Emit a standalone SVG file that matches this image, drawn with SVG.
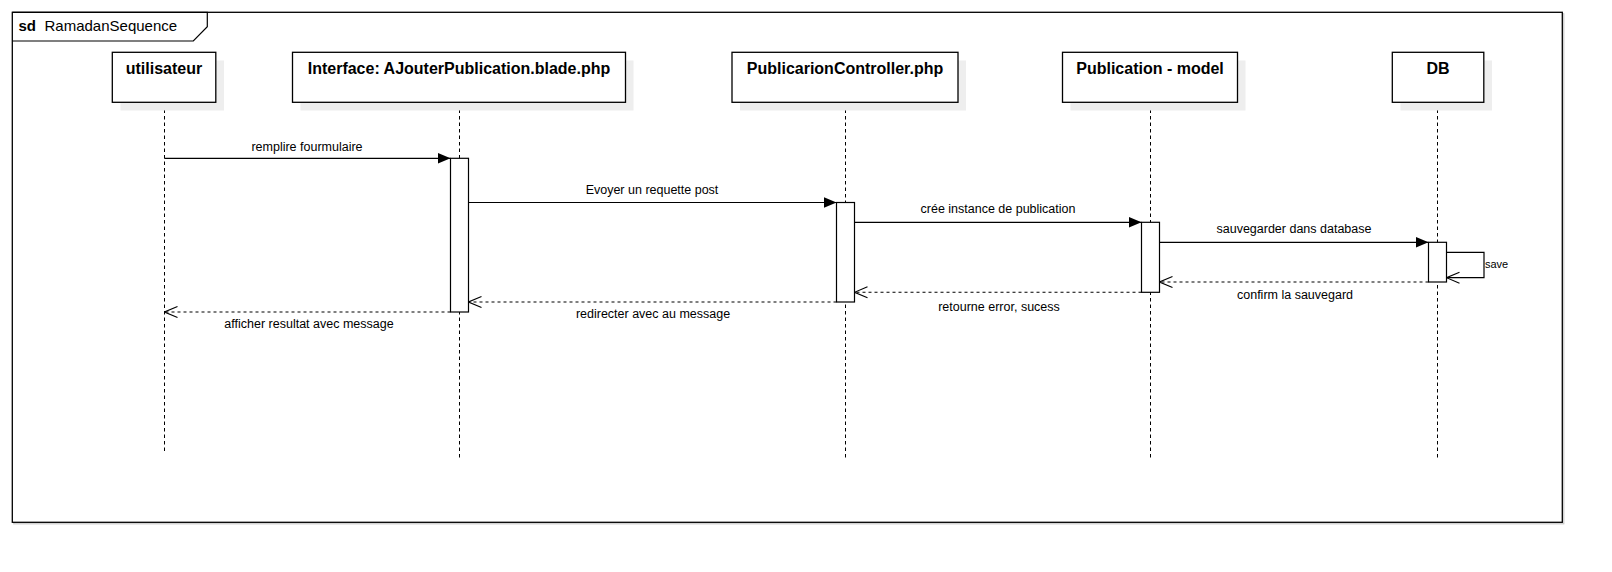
<svg xmlns="http://www.w3.org/2000/svg" width="1612" height="572" viewBox="0 0 1612 572">
<defs>
<style>
.frame{fill:#fff;stroke:#000;stroke-width:1.3}
.shadow{fill:#eeeeee;stroke:none}
.box{fill:#fff;stroke:#000;stroke-width:1.3}
.lbl{font-family:"Liberation Sans",Arial,sans-serif;font-size:16px;font-weight:bold;fill:#000;text-anchor:middle}
.life{stroke:#000;stroke-width:1;stroke-dasharray:3.5 3;fill:none}
.act{fill:#fff;stroke:#000;stroke-width:1.2}
.msg{stroke:#000;stroke-width:1.2;fill:none}
.ret{stroke:#000;stroke-width:1.1;fill:none;stroke-dasharray:3 3}
.mt{font-family:"Liberation Sans",Arial,sans-serif;font-size:12.5px;fill:#000;text-anchor:middle}
</style>
<marker id="fill" markerWidth="14" markerHeight="12" refX="13" refY="6" orient="auto" markerUnits="userSpaceOnUse">
<path d="M0,0.5 L13,6 L0,11.5 Z" fill="#000"/>
</marker>
<marker id="open" markerWidth="15" markerHeight="14" refX="14" refY="7" orient="auto" markerUnits="userSpaceOnUse">
<path d="M1,1.5 L14,7 L1,12.5" fill="none" stroke="#000" stroke-width="1.1"/>
</marker>
</defs>
<rect width="1612" height="572" fill="#fff"/>
<g id="frame">
<rect x="13.8" y="13.8" width="1550" height="510" fill="none" stroke="#c8c8c8" stroke-width="1.2"/>
<rect class="frame" x="12.3" y="12.3" width="1550" height="510"/>
<path d="M12.3,12.3 H207.3 V26.7 L193.3,41 H12.3" fill="none" stroke="#000" stroke-width="1.2"/>
<text x="18.5" y="30.5" font-family="'Liberation Sans',Arial,sans-serif" font-size="15" font-weight="bold" fill="#000">sd</text>
<text x="44.5" y="30.5" font-family="'Liberation Sans',Arial,sans-serif" font-size="15" fill="#000">RamadanSequence</text>
</g>
<g id="lifelines">
<line class="life" x1="164.5" y1="103" x2="164.5" y2="452"/>
<line class="life" x1="459.5" y1="103" x2="459.5" y2="460"/>
<line class="life" x1="845.5" y1="103" x2="845.5" y2="460"/>
<line class="life" x1="1150.5" y1="103" x2="1150.5" y2="460"/>
<line class="life" x1="1437.5" y1="103" x2="1437.5" y2="460"/>
</g>
<g id="utilisateur">
<rect class="shadow" x="120.5" y="60.5" width="103.5" height="50"/>
<rect class="box" x="112.3" y="52.3" width="103.5" height="50"/>
<text class="lbl" x="164" y="74">utilisateur</text>
</g>
<g id="interface">
<rect class="shadow" x="300.5" y="60.5" width="333" height="50"/>
<rect class="box" x="292.5" y="52.3" width="333" height="50"/>
<text class="lbl" x="459" y="74">Interface: AJouterPublication.blade.php</text>
</g>
<g id="controller">
<rect class="shadow" x="740" y="60.5" width="226" height="50"/>
<rect class="box" x="732" y="52.3" width="226" height="50"/>
<text class="lbl" x="845" y="74">PublicarionController.php</text>
</g>
<g id="model">
<rect class="shadow" x="1070.5" y="60.5" width="175" height="50"/>
<rect class="box" x="1062.5" y="52.3" width="175" height="50"/>
<text class="lbl" x="1150" y="74">Publication - model</text>
</g>
<g id="db">
<rect class="shadow" x="1400.5" y="60.5" width="91.5" height="50"/>
<rect class="box" x="1392.3" y="52.3" width="91.5" height="50"/>
<text class="lbl" x="1438" y="74">DB</text>
</g>
<g id="activations">
<rect class="act" x="450.5" y="158.3" width="18" height="153.7"/>
<rect class="act" x="836.5" y="202.5" width="18" height="99.5"/>
<rect class="act" x="1141.5" y="222.3" width="18" height="70"/>
<rect class="act" x="1428.5" y="242.3" width="18" height="39.7"/>
</g>
<g id="connectors">
<line class="msg" x1="164.5" y1="158.3" x2="450.5" y2="158.3" marker-end="url(#fill)"/>
<line class="msg" x1="468.5" y1="202.5" x2="836.5" y2="202.5" marker-end="url(#fill)"/>
<line class="msg" x1="854.5" y1="222.3" x2="1141.5" y2="222.3" marker-end="url(#fill)"/>
<line class="msg" x1="1159.5" y1="242.3" x2="1428.5" y2="242.3" marker-end="url(#fill)"/>
<path class="msg" d="M1446.5,252.3 H1484 V277.7 H1446.5" marker-end="url(#open)"/>
<line class="ret" x1="1428.5" y1="282" x2="1159.5" y2="282" marker-end="url(#open)"/>
<line class="ret" x1="1141.5" y1="292.3" x2="854.5" y2="292.3" marker-end="url(#open)"/>
<line class="ret" x1="836.5" y1="302" x2="468.5" y2="302" marker-end="url(#open)"/>
<line class="ret" x1="450.5" y1="312" x2="164.5" y2="312" marker-end="url(#open)"/>
</g>
<g id="labels">
<text class="mt" x="307" y="150.5">remplire fourmulaire</text>
<text class="mt" x="652" y="193.5">Evoyer un requette post</text>
<text class="mt" x="998" y="213">crée instance de publication</text>
<text class="mt" x="1294" y="233">sauvegarder dans database</text>
<text x="1485" y="268" font-family="'Liberation Sans',Arial,sans-serif" font-size="11" fill="#000">save</text>
<text class="mt" x="1295" y="298.5">confirm la sauvegard</text>
<text class="mt" x="999" y="311">retourne error, sucess</text>
<text class="mt" x="653" y="318">redirecter avec au message</text>
<text class="mt" x="309" y="327.5">afficher resultat avec message</text>
</g>
</svg>
